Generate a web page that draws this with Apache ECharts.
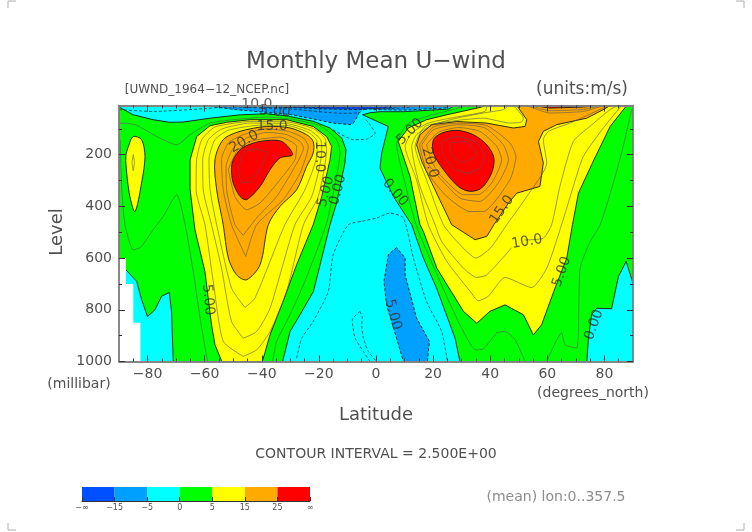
<!DOCTYPE html>
<html>
<head>
<meta charset="utf-8">
<title>Monthly Mean U-wind</title>
<script src="https://cdn.jsdelivr.net/npm/echarts@6/dist/echarts.min.js"></script>
<style>
    html, body { margin: 0; padding: 0; background: #fff; }
    #main { width: 752px; height: 532px; }
</style>
</head>
<body>
<div id="main"></div>
<script>
    // all outlines are [latitude, level in mb]
    var latTicks = [-80, -60, -40, -20, 0, 20, 40, 60, 80];
    var latMinorTicks = [-85, -75, -70, -65, -55, -50, -45, -35, -30, -25, -15, -10, -5, 5, 10, 15, 25, 30, 35, 45, 50, 55, 65, 70, 75, 85];
    var levelTicks = [200, 400, 600, 800, 1000];
    var levelMinorTicks = [100, 300, 500, 700, 900];

    var barLabels = ['\u2212\u221e', '\u221215', '\u22125', '0', '5', '15', '25', '\u221e'];
    var barColors = ['#0050ff', '#00a0ff', '#00ffff', '#00ff00', '#ffff00', '#ffaa00', '#ff0000'];

    var cyanBase = [[-90, 10], [90, 10], [90, 1000], [-90, 1000]];
    var greenSouth = [[-90, 16], [-85, 46], [-78, 65], [-72.2, 75], [-67.5, 74], [-58, 59], [-47.6, 46], [-38.3, 42], [-31.3, 50], [-22, 71], [-16.1, 97], [-12, 136], [-10.5, 181], [-10.9, 233], [-13.8, 387], [-16.1, 471], [-21.9, 729], [-26.6, 819], [-30.1, 884], [-32.7, 1000], [-71, 1000], [-71.6, 806], [-72.4, 733], [-75.1, 748], [-77.4, 800], [-80, 826], [-82.1, 761], [-83.8, 690], [-87.6, 645], [-90, 620]];
    var greenNorth = [[-4.7, 46], [-2.1, 38], [1.4, 34], [9.6, 34], [25.3, 24], [27.7, 10], [90, 10], [90, 697], [87.6, 613], [84.9, 671], [82.5, 796], [77.3, 794], [75.5, 819], [74.4, 910], [73.8, 1000], [29.4, 1000], [27.7, 910], [21.2, 716], [16.6, 600], [12.5, 471], [6.1, 362], [1.4, 252], [2, 194], [4.3, 91], [-2.1, 59]];
    var yellowLens = [[-87.6, 207], [-86.7, 168], [-85, 130], [-82.1, 142], [-80.9, 207], [-82.1, 310], [-84.4, 420], [-86.2, 362], [-87.3, 271]];
    var yellowSouth = [[-58.1, 88], [-62.8, 130], [-65.1, 220], [-65.1, 336], [-63.4, 491], [-59.9, 652], [-57.6, 858], [-56.4, 935], [-54, 1000], [-39.8, 1000], [-37.1, 897], [-33, 781], [-27.8, 626], [-22, 471], [-19, 362], [-16.1, 220], [-15.5, 168], [-17.3, 130], [-22, 91], [-31.3, 65], [-44.1, 65], [-52.3, 75]];
    var yellowNorth = [[7.8, 149], [11.3, 97], [17.7, 65], [24.8, 46], [37, 16], [38.2, 10], [87.8, 10], [82, 91], [75.5, 239], [70.9, 349], [68.8, 471], [66.8, 600], [62.7, 716], [58, 858], [55.1, 897], [51.6, 819], [45.2, 781], [39.9, 806], [35.3, 852], [30.6, 806], [21.3, 639], [16.6, 497], [15.4, 471], [11.9, 284]];
    var orangeSouth = [[-56.4, 220], [-53.5, 142], [-47.6, 110], [-38.3, 91], [-30.1, 97], [-24.3, 123], [-22, 149], [-22, 194], [-24.3, 246], [-27.8, 336], [-33.6, 400], [-37.7, 471], [-40.6, 626], [-45.3, 684], [-48.8, 665], [-51.7, 600], [-53.5, 471], [-55.8, 336]];
    var orangeNorth = [[14.2, 162], [15.4, 123], [19.5, 84], [28.3, 72], [38.8, 78], [48.1, 97], [52.2, 91], [52.8, 65], [49.3, 10], [82, 10], [79.6, 26], [73.8, 59], [63.3, 84], [58.6, 110], [56.9, 149], [58.6, 233], [57.4, 323], [49.3, 349], [46.4, 387], [41.3, 471], [38.8, 516], [34.7, 529], [26.5, 471], [20.1, 323], [16, 226]];
    var redSouth = [[-50.6, 258], [-50, 220], [-47, 175], [-40.6, 149], [-33, 149], [-29.2, 200], [-33.6, 213], [-37.1, 258], [-40.6, 323], [-45.3, 374], [-47.6, 362], [-50, 310]];
    var redNorth = [[20.1, 142], [23, 117], [28.3, 106], [34.1, 123], [38.8, 162], [41.3, 213], [40.5, 271], [37, 329], [32.9, 342], [28.8, 323], [23.6, 258], [20.1, 194]];
    var redTop = [[55.1, 10], [60.9, 20], [72.6, 16], [77.3, 10]];
    var skyTop = [[-60, 10], [-50, 25], [-40, 35], [-30, 45], [-22, 62], [-15, 78], [-9.1, 84], [-7.9, 78], [-6.5, 52], [-5, 14], [-4, 10]];
    var skyTopNorth = [[-4, 10], [-1, 26], [10, 28], [24, 20], [27, 10]];
    var blueTop = [[-55, 10], [-35, 16], [-15, 24], [-5, 26], [5, 18], [11, 10]];
    var skyEquator = [[7.2, 559], [4.3, 587], [2.8, 690], [3.7, 781], [7.2, 910], [9.6, 1000], [18, 1000], [18.7, 922], [14.2, 832], [10.2, 665], [10.2, 600]];
    var missingData = [[-90, 600], [-87.6, 600], [-87.6, 700], [-85, 700], [-85, 850], [-82.5, 850], [-82.5, 1000], [-90, 1000]];

    // order is paint order, later bands lie over earlier ones
    var bands = [
        { pts: cyanBase, color: barColors[2], edge: 'none' },
        { pts: greenSouth, color: barColors[3], edge: 'solid' },
        { pts: greenNorth, color: barColors[3], edge: 'solid' },
        { pts: yellowLens, color: barColors[4], edge: 'solid', round: true },
        { pts: yellowSouth, color: barColors[4], edge: 'solid' },
        { pts: yellowNorth, color: barColors[4], edge: 'solid' },
        { pts: orangeSouth, color: barColors[5], edge: 'solid', round: true },
        { pts: orangeNorth, color: barColors[5], edge: 'solid' },
        { pts: redSouth, color: barColors[6], edge: 'solid', round: true },
        { pts: redNorth, color: barColors[6], edge: 'solid', round: true },
        { pts: redTop, color: barColors[6], edge: 'solid' },
        { pts: skyTop, color: barColors[1], edge: 'dashed' },
        { pts: skyTopNorth, color: barColors[1], edge: 'dashed' },
        { pts: blueTop, color: barColors[0], edge: 'dashed' },
        { pts: skyEquator, color: barColors[1], edge: 'dashed' },
        { pts: missingData, color: '#ffffff', edge: 'none' }
    ];

    // contour lines that are not a colour edge
    var south25 = [[-90, 78], [-84.4, 84], [-75.7, 136], [-69.8, 162], [-65.1, 123], [-58.1, 78], [-47.6, 62], [-38.3, 55], [-30, 62], [-19.6, 88], [-13.8, 142], [-12.6, 194], [-13.8, 284], [-17.3, 465], [-24.9, 690], [-30.1, 819], [-34.8, 923], [-36.2, 1000]];
    var south25b = [[-59, 1000], [-61.6, 832], [-64, 652], [-66.9, 468], [-69.8, 355], [-74.5, 439], [-78, 490], [-82.4, 558], [-85, 568], [-87.9, 471], [-89, 336], [-89.6, 142]];
    var south75 = [[-46.5, 980], [-53.5, 922], [-57, 690], [-59.9, 471], [-63, 336], [-62.8, 220], [-61, 142], [-56.4, 93], [-44.1, 72], [-31.3, 73], [-22, 99], [-17.9, 136], [-17.3, 181], [-20.2, 362], [-25.4, 471], [-31.3, 729], [-37.1, 884], [-41.8, 955], [-46.5, 980]];
    var south100 = [[-46.5, 910], [-50.6, 845], [-54.1, 639], [-57.6, 471], [-60.5, 336], [-60.7, 220], [-58.7, 142], [-54, 101], [-44.1, 78], [-31.3, 80], [-23.1, 106], [-19.4, 142], [-19, 188], [-22.5, 362], [-28.4, 471], [-37.1, 794], [-41.8, 884], [-46.5, 910]];
    var south125 = [[-45.9, 791], [-50.6, 716], [-55.8, 471], [-58.1, 336], [-58.5, 220], [-56.4, 142], [-51.7, 106], [-40.6, 86], [-30.7, 88], [-23.7, 114], [-20.8, 145], [-20.6, 194], [-24.9, 336], [-31.9, 471], [-42.4, 755], [-45.9, 791]];
    var south175 = [[-45.6, 594], [-50.6, 471], [-53.5, 336], [-54.1, 220], [-51.7, 155], [-46.5, 123], [-38.3, 101], [-30.7, 110], [-25.4, 136], [-23.7, 168], [-26.6, 271], [-32.5, 374], [-41.8, 471], [-45.6, 594]];
    var south200 = [[-46.5, 512], [-49.4, 471], [-52.3, 336], [-52.5, 246], [-50, 175], [-45.3, 136], [-38.3, 114], [-31.3, 123], [-26.6, 149], [-25.4, 175], [-29, 258], [-34.8, 362], [-41.8, 445], [-46.5, 512]];
    var south225 = [[-51.7, 258], [-48.8, 188], [-44.1, 149], [-33.6, 132], [-27.8, 168], [-28.4, 220], [-33.6, 297], [-40.6, 387], [-45.3, 413], [-49.4, 362], [-51.7, 258]];
    var south275 = [[-48.2, 258], [-46.5, 194], [-41.8, 178], [-38.3, 194], [-39.5, 233], [-44.1, 304], [-47, 310], [-48.2, 258]];
    var lens75 = [[-85, 200], [-84.6, 230], [-85, 262], [-85.4, 230], [-85, 200]];

    var north25 = [[31.8, 10], [25.9, 29], [17.7, 52], [10.7, 84], [7.2, 162], [9, 258], [14, 471], [22.4, 690], [29.4, 858], [35, 955], [37.6, 951], [42.3, 890], [45.2, 884], [48.7, 916], [52.2, 1000]];
    var north25b = [[59.8, 1000], [65, 890], [66.2, 935], [70.3, 948], [71.5, 639], [75, 536], [78.5, 471], [83.1, 310], [86.6, 168], [89.5, 26]];
    var north75 = [[38.8, 10], [38.2, 33], [25.9, 59], [18.3, 78], [12.5, 117], [10.2, 168], [14.2, 297], [18.3, 471], [24.8, 613], [33, 729], [35.8, 765], [39.3, 748], [45.2, 675], [54.5, 714], [59.8, 639], [65, 471], [69.1, 323], [72.6, 207], [79.6, 97], [86, 10]];
    var north100 = [[46.4, 10], [44.6, 26], [37.6, 39], [28.3, 59], [20.1, 84], [14.2, 123], [12.5, 168], [15.4, 323], [20.7, 471], [23, 536], [30.6, 639], [35.3, 675], [38.8, 665], [47.5, 560]];
    var north100b = [[52, 530], [58.6, 523], [61.5, 471], [64.4, 323], [69.1, 149], [74.9, 91], [82, 26], [84.9, 10]];
    var north125 = [[48.1, 10], [51.6, 59], [51, 74], [47, 78], [37.6, 59], [28.3, 68], [17.2, 91], [13.7, 168], [17.7, 297], [23.6, 471], [29.4, 548], [35, 600], [40, 562], [45.8, 471], [52.8, 362], [59.8, 233], [58.6, 142], [60.4, 110], [67.9, 78], [79.6, 20], [82.5, 10]];
    var north175 = [[15.2, 162], [20.1, 93], [28.5, 78], [38.8, 88], [46.9, 155], [49, 207], [46.9, 297], [37.6, 420], [32.9, 420], [24.8, 362], [17.8, 265], [15.2, 162]];
    var north200 = [[16, 162], [20.1, 104], [28.8, 84], [38.2, 97], [44.6, 162], [46.4, 220], [42.8, 310], [36.4, 381], [29.4, 368], [21.3, 278], [17.7, 226], [16, 162]];
    var north225 = [[17.7, 162], [21.8, 114], [28.8, 95], [36.4, 110], [42.3, 168], [44, 220], [40.5, 310], [35.8, 355], [30.6, 355], [22.4, 278], [19.5, 226], [17.7, 162]];
    var north275 = [[23, 149], [28.3, 130], [35.3, 155], [38, 207], [36.4, 252], [31.8, 271], [27.1, 252], [23.6, 200], [23, 149]];
    var north300 = [[25.9, 155], [31.2, 149], [35.3, 200], [30.6, 230], [26.5, 200], [25.9, 155]];
    var topNorth175 = [[52.8, 10], [60.9, 39], [72.6, 33], [79.6, 10]];
    var topNorth200 = [[54, 10], [60.9, 30], [72.6, 25], [78.5, 10]];
    var solidLines = [south25, south25b, south75, south100, south125, south175, south200, south225, south275, lens75, north25, north25b, north75, north100, north100b, north125, north175, north200, north225, north275, north300, topNorth175, topNorth200];

    var minus25 = [[-27.8, 987], [-26, 910], [-22, 845], [-16.7, 729], [-15, 587], [-9.7, 471], [-5, 458], [0.2, 445], [4.9, 426], [9.6, 445], [13.1, 600], [17.7, 768], [23, 884], [25, 1000]];
    var loopA = [[-5.6, 806], [-8.3, 839], [-7.3, 910], [-4.4, 961], [-2.1, 1000]];
    var loopB = [[-5.6, 806], [-4.8, 830], [-5, 858], [-4.4, 910], [-2.7, 961], [0.2, 1000]];
    var topLeft = [[-90, 26], [-78, 33], [-60, 22], [-50, 13]];
    var tropics = [[-15, 104], [-7.9, 142], [-3.3, 140], [-0.3, 117], [-2.1, 84], [-3.9, 60]];
    var topDashA = [[-55, 14], [-30, 24], [-12, 40], [-6, 38], [-3, 12]];
    var topDashB = [[-40, 14], [-20, 18], [-5, 20], [5, 22], [15, 14], [22, 10]];
    var topDashC = [[-25, 12], [-5, 14], [8, 14]];
    var dashedLines = [minus25, loopA, loopB, topLeft, tropics, topDashA, topDashB, topDashC];

    var labelTexts = ['10.0', '5.00', '15.0', '20.0', '10.0', '5.00', '0.00', '5.00', '0.00', '5.00', '5.00', '20.0', '15.0', '10.0', '5.00', '0.00'];
    var labelLats = [-41.7, -35.4, -36.4, -46.2, -19.6, -17.5, -13.3, -58.8, 6.7, 6, 11.9, 18.9, 44.1, 52.9, 65.1, 76.4];
    var labelLevels = [7, 34, 92, 150, 208, 343, 336, 761, 347, 819, 111, 231, 413, 537, 653, 858];
    var labelAngles = [0, -5, 0, 30, -90, 75, 75, -85, -50, -75, 45, -75, 55, 10, 70, 70];

    var inkColor = '#505050';
    var fontName = 'DejaVu Sans';

    var chartDom = document.getElementById('main');
    var myChart = echarts.init(chartDom);

    function makeAxis(kind, position, ticks, tickLen, withLabels) {
        var axis = {
            type: 'value',
            position: position,
            z: 20,
            splitLine: { show: false },
            axisLine: { show: true, onZero: false, lineStyle: { color: '#808080', width: 1.5 } },
            axisTick: { show: true, inside: true, length: tickLen, customValues: ticks, lineStyle: { color: '#333', width: 1 } },
            axisLabel: { show: false }
        };
        if (kind === 'x') {
            axis.min = -90;
            axis.max = 90;
        } else {
            axis.min = 10;
            axis.max = 1000;
            axis.inverse = true;
        }
        if (withLabels) {
            axis.axisLabel = {
                show: true,
                customValues: ticks,
                color: inkColor,
                fontFamily: fontName,
                fontSize: 14,
                margin: kind === 'x' ? 6 : 7,
                formatter: function (v) {
                    return String(v).replace('-', '\u2212');
                }
            };
        }
        return axis;
    }

    function textItem(str, x, y, size, opts) {
        opts = opts || {};
        return {
            type: 'text',
            x: x,
            y: y,
            rotation: opts.rotation || 0,
            style: {
                text: str,
                fill: opts.color || inkColor,
                font: size + 'px "' + fontName + '"',
                align: opts.align || 'center',
                verticalAlign: 'middle'
            }
        };
    }

    function cornerMark(points) {
        return { type: 'polyline', shape: { points: points }, style: { stroke: '#b0b0b0', lineWidth: 1, fill: null } };
    }

    var series = [];

    series.push({
        type: 'custom',
        xAxisIndex: 0,
        yAxisIndex: 0,
        clip: true,
        z: 2,
        silent: true,
        data: bands.map(function (b, i) { return [i]; }),
        renderItem: function (params, api) {
            var band = bands[api.value(0)];
            return {
                type: 'polygon',
                shape: {
                    points: band.pts.map(function (p) { return api.coord(p); }),
                    smooth: band.round ? 0.3 : 0
                },
                style: {
                    fill: band.color,
                    stroke: band.edge === 'none' ? null : '#1a1a1a',
                    lineWidth: 0.9,
                    lineDash: band.edge === 'dashed' ? [3, 2] : null
                }
            };
        }
    });

    solidLines.forEach(function (line) {
        series.push({
            type: 'line', data: line, xAxisIndex: 0, yAxisIndex: 0, z: 3, silent: true,
            showSymbol: false, symbol: 'none', clip: true, smooth: 0.2,
            lineStyle: { color: '#555', width: 0.6 }
        });
    });
    dashedLines.forEach(function (line) {
        series.push({
            type: 'line', data: line, xAxisIndex: 0, yAxisIndex: 0, z: 3, silent: true,
            showSymbol: false, symbol: 'none', clip: true, smooth: 0.2,
            lineStyle: { color: '#222', width: 0.7, type: [3, 2] }
        });
    });

    series.push({
        type: 'scatter',
        xAxisIndex: 0,
        yAxisIndex: 0,
        clip: false,
        silent: true,
        z: 5,
        symbolSize: 0,
        data: labelTexts.map(function (t, i) {
            return {
                value: [labelLats[i], labelLevels[i]],
                label: { formatter: t, rotate: labelAngles[i] }
            };
        }),
        label: { show: true, position: 'inside', color: '#333', fontFamily: fontName, fontSize: 14 }
    });

    // colour key
    series.push({
        type: 'custom',
        xAxisIndex: 4,
        yAxisIndex: 4,
        silent: true,
        z: 2,
        data: barColors.map(function (c, i) { return [i]; }),
        renderItem: function (params, api) {
            var i = api.value(0);
            var a = api.coord([i, 1]);
            var b = api.coord([i + 1, 0]);
            return {
                type: 'rect',
                shape: { x: a[0], y: a[1], width: b[0] - a[0], height: b[1] - a[1] },
                style: { fill: barColors[i] }
            };
        }
    });

    var barX = {
        type: 'value', gridIndex: 1, min: 0, max: 7, z: 20, position: 'bottom',
        splitLine: { show: false },
        axisLine: { show: true, onZero: false, lineStyle: { color: '#333', width: 1 } },
        axisTick: { show: true, inside: true, length: 4, customValues: [0, 1, 2, 3, 4, 5, 6, 7], lineStyle: { color: '#333' } },
        axisLabel: {
            show: true, customValues: [0, 1, 2, 3, 4, 5, 6, 7], color: inkColor, fontFamily: fontName, fontSize: 8, margin: 3,
            formatter: function (v) { return barLabels[v]; }
        }
    };
    var barY = {
        type: 'value', gridIndex: 1, min: 0, max: 1,
        axisLine: { show: false }, axisTick: { show: false }, axisLabel: { show: false }, splitLine: { show: false }
    };

    var option = {
        animation: false,
        backgroundColor: '#fff',
        grid: [
            { left: 119, top: 105.5, width: 514, height: 256 },
            { left: 82, top: 487, width: 228, height: 14 }
        ],
        xAxis: [
            makeAxis('x', 'bottom', latTicks, 6, true),
            makeAxis('x', 'top', latTicks, 6, false),
            makeAxis('x', 'bottom', latMinorTicks, 3, false),
            makeAxis('x', 'top', latMinorTicks, 3, false),
            barX
        ],
        yAxis: [
            makeAxis('y', 'left', levelTicks, 6, true),
            makeAxis('y', 'right', levelTicks, 6, false),
            makeAxis('y', 'left', levelMinorTicks, 3, false),
            makeAxis('y', 'right', levelMinorTicks, 3, false),
            barY
        ],
        series: series,
        graphic: [
            textItem('Monthly Mean U\u2212wind', 376, 62, 23),
            textItem('[UWND_1964\u221212_NCEP.nc]', 207, 90, 12),
            textItem('(units:m/s)', 582, 90, 17),
            textItem('Level', 57, 232, 18, { rotation: Math.PI / 2 }),
            textItem('(millibar)', 79, 384, 14),
            textItem('(degrees_north)', 593, 393, 14),
            textItem('Latitude', 376, 415, 18),
            textItem('CONTOUR INTERVAL = 2.500E+00', 376, 454, 14),
            textItem('(mean) lon:0..357.5', 556, 497, 14, { color: '#8c8c8c' }),
            cornerMark([[8, 8], [8, 1], [16, 1]]),
            cornerMark([[736, 1], [744, 1], [744, 8]]),
            cornerMark([[8, 523], [8, 530], [16, 530]]),
            cornerMark([[736, 530], [744, 530], [744, 523]])
        ]
    };

    myChart.setOption(option);
</script>
</body>
</html>
